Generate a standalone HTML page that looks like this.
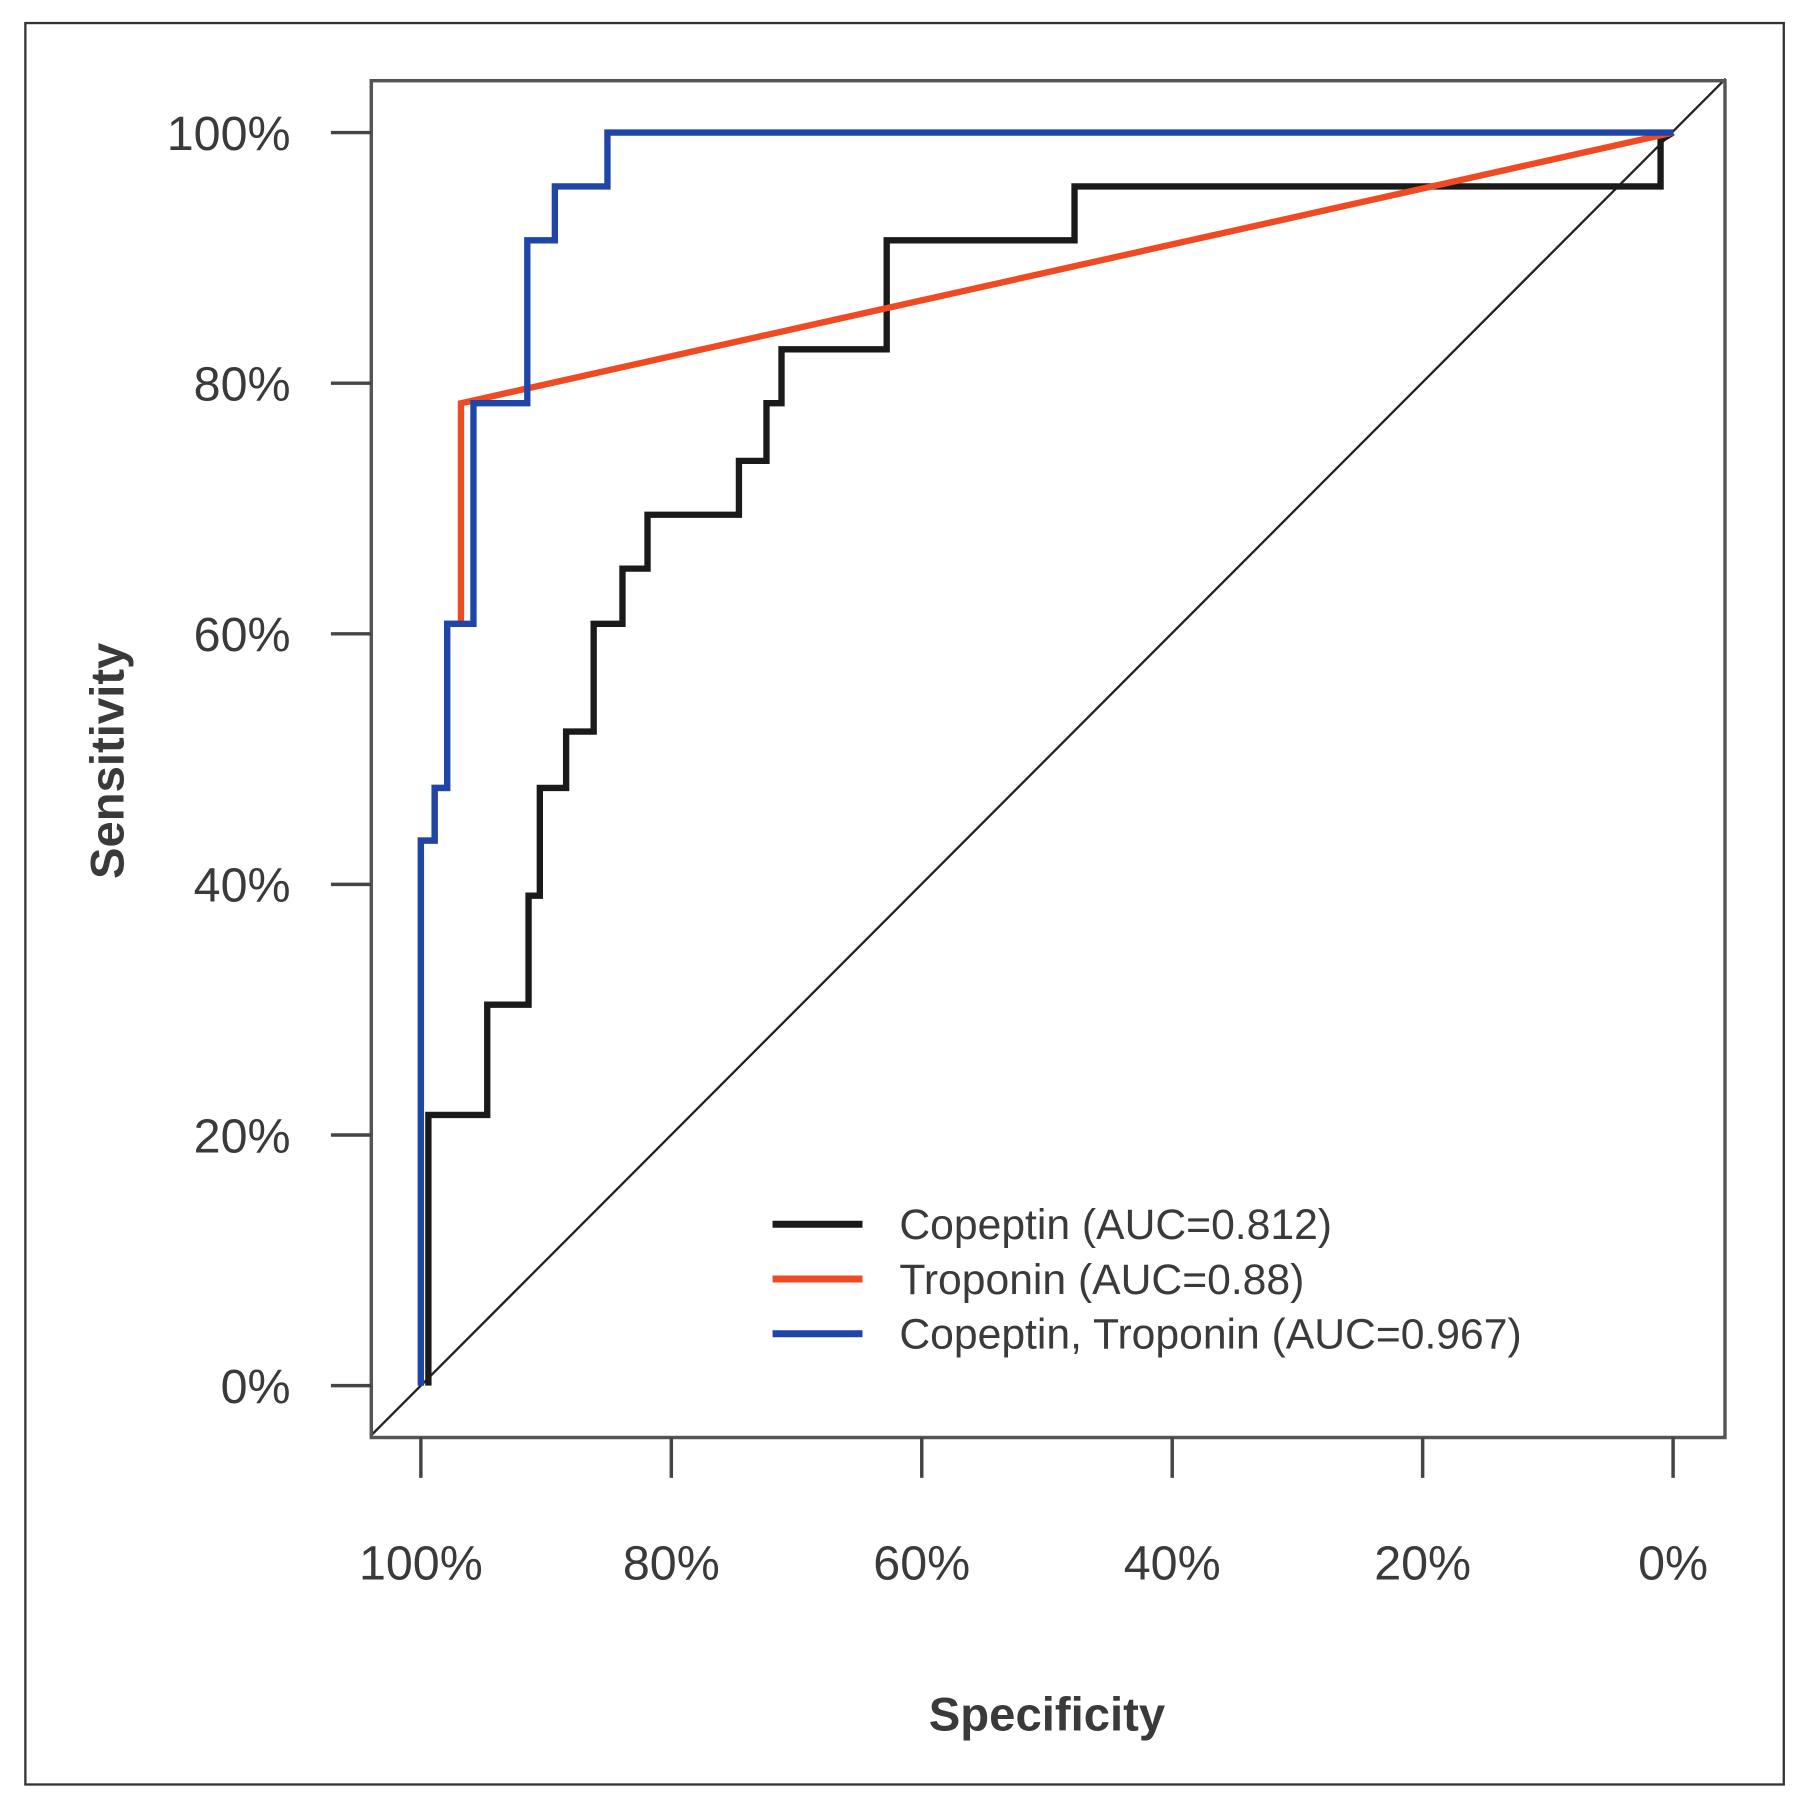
<!DOCTYPE html>
<html><head><meta charset="utf-8"><style>
html,body{margin:0;padding:0;background:#fff}
svg{display:block}
text{font-family:"Liberation Sans",Arial,sans-serif;fill:#3a3a3a}
</style></head><body>
<svg id="chart" width="1808" height="1811" viewBox="0 0 1568 1571" preserveAspectRatio="none" xmlns="http://www.w3.org/2000/svg">
<rect x="22" y="20" width="1525" height="1528" fill="#fff" stroke="#333" stroke-width="2"/>
<g id="plot"></g>
</svg>
<script>
const xTicks=[100,80,60,40,20,0];
const yTicks=[0,20,40,60,80,100];
const tickLabels=["0%","20%","40%","60%","80%","100%"];
const copeptinSpec=[99.4,99.4,94.7,94.7,91.4,91.4,90.5,90.5,88.4,88.4,86.2,86.2,83.9,83.9,81.9,81.9,74.6,74.6,72.4,72.4,71.2,71.2,62.8,62.8,47.8,47.8,1.0,1.0,0];
const copeptinSens=[0,21.6,21.6,30.4,30.4,39.1,39.1,47.7,47.7,52.2,52.2,60.8,60.8,65.2,65.2,69.5,69.5,73.8,73.8,78.4,78.4,82.7,82.7,91.4,91.4,95.7,95.7,99.4,100];
const troponinSpec=[100,100,98.9,98.9,97.9,97.9,96.8,96.8,0];
const troponinSens=[0,43.5,43.5,47.7,47.7,60.8,60.8,78.4,100];
const comboSpec=[100,100,98.9,98.9,97.9,97.9,95.8,95.8,91.5,91.5,89.3,89.3,85.1,85.1,0];
const comboSens=[0,43.5,43.5,47.7,47.7,60.8,60.8,78.4,78.4,91.4,91.4,95.7,95.7,100,100];
const legendNames=["Copeptin (AUC=0.812)","Troponin (AUC=0.88)","Copeptin, Troponin (AUC=0.967)"];

const NS="http://www.w3.org/2000/svg";
const g=document.getElementById('plot');
const xs=s=>365+(100-s)*10.86;
const ys=v=>1202-v*10.87;
function mk(tag,attrs,parent){const e=document.createElementNS(NS,tag);for(const k in attrs)e.setAttribute(k,attrs[k]);(parent||g).appendChild(e);return e;}

let d=mk('line',{x1:xs(104),y1:ys(-4),x2:xs(-4.2),y2:ys(104.3),stroke:'#222','stroke-width':2});



let b=mk('rect',{x:322,y:70,width:1174,height:1177,fill:'none',stroke:'#555','stroke-width':3});



yTicks.forEach((v,i)=>{
  let t=mk('line',{x1:287,x2:322,y1:ys(v),y2:ys(v),stroke:'#444','stroke-width':3});
  
  
  let l=mk('text',{x:252,y:ys(v)+15,'text-anchor':'end','font-size':42});
  l.textContent=tickLabels[i];
  
  
});
xTicks.forEach(v=>{
  let t=mk('line',{x1:xs(v),x2:xs(v),y1:1247,y2:1282,stroke:'#444','stroke-width':3});
  
  
  let l=mk('text',{x:xs(v),y:1370,'text-anchor':'middle','font-size':42});
  l.textContent=v+'%';
  
  
});

function series(sp,se,color,name){
  const pts=sp.map((s,i)=>xs(s)+','+ys(se[i])).join(' ');
  let p=mk('polyline',{points:pts,fill:'none',stroke:color,'stroke-width':5.5,'stroke-linejoin':'miter'});
  
  
}
series(copeptinSpec,copeptinSens,'#1a1a1a','copeptin-curve');
series(troponinSpec,troponinSens,'#f04a23','troponin-curve');
series(comboSpec,comboSens,'#1f45a8','combined-curve');

const colors=['#1a1a1a','#f04a23','#1f45a8'];
legendNames.forEach((n,i)=>{
  const y=1062+i*47.5;
  let l=mk('line',{x1:670,x2:748,y1:y,y2:y,stroke:colors[i],'stroke-width':6});
  
  
  let t=mk('text',{x:780,y:y+13,'font-size':37});
  t.textContent=n;
  
  
});

let xt=mk('text',{x:908,y:1501,'text-anchor':'middle','font-size':41,'font-weight':'bold'});
xt.textContent='Specificity';


let yt=mk('text',{x:0,y:0,'text-anchor':'middle','font-size':41,'font-weight':'bold',transform:'translate(107,660) rotate(-90)'});
yt.textContent='Sensitivity';


</script>
</body></html>
